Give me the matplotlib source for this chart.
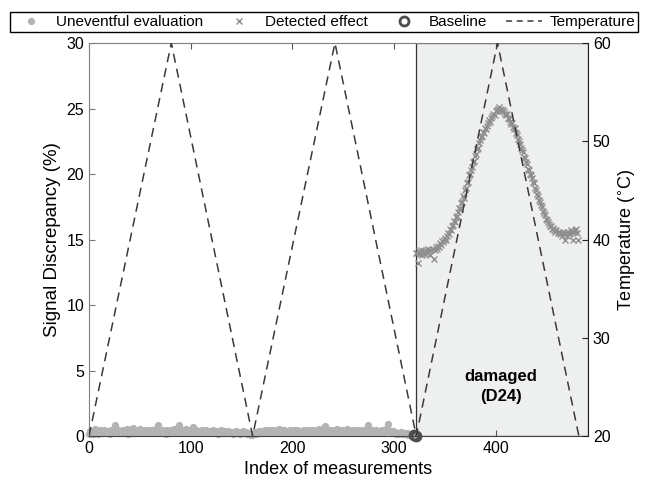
import matplotlib
matplotlib.use("Agg")
import matplotlib.pyplot as plt
from matplotlib.lines import Line2D

plt.rcParams['font.family'] = ['Liberation Sans', 'DejaVu Sans']

# ---------------- data ----------------
uneventful_values = [
    0.12, 0.35, 0.28, 0.41, 0.19, 0.30, 0.52, 0.24, 0.38, 0.15, 0.33, 0.45, 0.27, 0.20, 0.36, 0.48, 0.22, 0.31, 0.40, 0.26,
    0.34, 0.18, 0.43, 0.29, 0.37, 0.50, 0.86, 0.25, 0.32, 0.44, 0.21, 0.39, 0.30, 0.47, 0.23, 0.35, 0.28, 0.55, 0.19, 0.33,
    0.42, 0.26, 0.38, 0.60, 0.24, 0.31, 0.45, 0.20, 0.36, 0.29, 0.52, 0.27, 0.40, 0.33, 0.22, 0.46, 0.30, 0.37, 0.25, 0.43,
    0.28, 0.35, 0.49, 0.21, 0.39, 0.32, 0.57, 0.26, 0.82, 0.34, 0.41, 0.23, 0.30, 0.48, 0.27, 0.36, 0.19, 0.44, 0.31, 0.38,
    0.25, 0.46, 0.33, 0.29, 0.54, 0.22, 0.40, 0.35, 0.61, 0.87, 0.28, 0.37, 0.45, 0.24, 0.32, 0.50, 0.26, 0.39, 0.30, 0.43,
    0.21, 0.34, 0.72, 0.27, 0.36, 0.48, 0.23, 0.41, 0.31, 0.38, 0.25, 0.44, 0.29, 0.35, 0.20, 0.42, 0.33, 0.27, 0.39, 0.24,
    0.37, 0.30, 0.46, 0.22, 0.34, 0.28, 0.40, 0.19, 0.36, 0.31, 0.43, 0.26, 0.33, 0.24, 0.39, 0.29, 0.21, 0.35, 0.27, 0.32,
    0.22, 0.30, 0.18, 0.34, 0.26, 0.38, 0.20, 0.29, 0.33, 0.17, 0.31, 0.24, 0.36, 0.21, 0.28, 0.15, 0.25, 0.19, 0.13, 0.10,
    0.08, 0.14, 0.20, 0.27, 0.17, 0.32, 0.24, 0.37, 0.29, 0.22, 0.41, 0.34, 0.26, 0.45, 0.31, 0.38, 0.23, 0.43, 0.35, 0.28,
    0.48, 0.25, 0.39, 0.33, 0.44, 0.27, 0.36, 0.51, 0.30, 0.42, 0.24, 0.38, 0.46, 0.29, 0.35, 0.40, 0.26, 0.33, 0.47, 0.31,
    0.37, 0.22, 0.43, 0.34, 0.28, 0.45, 0.32, 0.39, 0.25, 0.41, 0.30, 0.36, 0.49, 0.27, 0.35, 0.42, 0.23, 0.38, 0.31, 0.44,
    0.29, 0.40, 0.33, 0.47, 0.26, 0.37, 0.52, 0.30, 0.41, 0.35, 0.45, 0.28, 0.79, 0.39, 0.32, 0.46, 0.24, 0.36, 0.43, 0.30,
    0.38, 0.27, 0.44, 0.33, 0.50, 0.25, 0.40, 0.35, 0.29, 0.47, 0.32, 0.41, 0.26, 0.37, 0.55, 0.30, 0.43, 0.34, 0.28, 0.39,
    0.46, 0.31, 0.36, 0.24, 0.42, 0.33, 0.48, 0.27, 0.38, 0.30, 0.44, 0.35, 0.25, 0.40, 0.53, 0.81, 0.29, 0.37, 0.43, 0.32,
    0.39, 0.26, 0.45, 0.34, 0.30, 0.41, 0.36, 0.23, 0.47, 0.33, 0.38, 0.28, 0.43, 0.58, 0.88, 0.35, 0.31, 0.40, 0.27, 0.36,
    0.22, 0.30, 0.18, 0.26, 0.14, 0.24, 0.20, 0.28, 0.16, 0.23, 0.12, 0.21, 0.17, 0.25, 0.11, 0.19, 0.15, 0.09, 0.13, 0.08,
    0.10, 0.06,
]
uneventful_start = 0

detected_values = [
    14.0,
    14.0, 13.2, 14.1, 13.9, 14.2, 13.8, 14.0, 14.1, 13.9, 14.2,
    14.0, 14.3, 14.1, 13.8, 14.2, 14.3, 13.5, 14.2, 14.4, 14.3,
    14.5, 14.4, 14.7, 14.6, 14.9, 14.8, 15.0, 15.1, 15.0, 15.3,
    15.5, 15.4, 15.8, 15.7, 16.0, 16.1, 16.4, 16.3, 16.7, 16.8,
    17.1, 17.4, 17.3, 17.8, 17.9, 18.3, 18.2, 18.8, 18.9, 19.3,
    19.4, 19.9, 20.0, 20.3, 20.5, 20.9, 21.0, 21.4, 21.5, 21.9,
    22.0, 22.4, 22.6, 22.8, 22.9, 23.2, 23.1, 23.5, 23.4, 23.7,
    23.9, 24.1, 24.0, 24.3, 24.4, 24.6, 24.5, 24.8, 24.9, 25.0,
    25.1, 24.9, 25.0, 24.8, 24.9, 24.7, 24.6, 24.5, 24.6, 24.3,
    24.2, 24.0, 23.8, 23.9, 23.6, 23.4, 23.5, 23.1, 23.0, 22.7,
    22.5, 22.3, 22.0, 21.8, 21.7, 21.3, 21.2, 20.9, 20.8, 20.4,
    20.3, 20.0, 19.9, 19.7, 19.4, 19.3, 18.9, 18.8, 18.5, 18.3,
    18.0, 17.9, 17.6, 17.5, 17.2, 17.0, 16.9, 16.6, 16.5, 16.3,
    16.2, 16.0, 16.0, 15.8, 15.9, 15.7, 15.6, 15.7, 15.5, 15.6,
    15.4, 15.5, 15.3, 15.6, 15.4, 15.0, 15.5, 15.3, 15.6, 15.4,
    15.5, 15.7, 15.6, 15.0, 15.6, 15.7, 15.8, 15.5, 15.0,
]
detected_start = 322

baseline_index = [320, 322]
baseline_values = [0.05, 0.0]

temp_index = [0, 81, 161, 242, 322, 402, 482]
temp_values = [20, 60, 20, 60, 20, 60, 20]

damaged_start = 322
x_max = 491

left_ticks = [0, 5, 10, 15, 20, 25, 30]
right_ticks = [20, 30, 40, 50, 60]
x_ticks = [0, 100, 200, 300, 400]

# ---------------- figure ----------------
fig = plt.figure(figsize=(6.46, 4.90), dpi=100)
ax = fig.add_axes([89/646, 1-436/490, (588-89)/646, (436-43)/490])
ax2 = ax.twinx()

c_unev = '#b3b3b3'
c_det = '#8f8f8f'
c_base = '#4d4d4d'
c_temp = '#3a3a3a'

ax.axvspan(damaged_start, x_max, facecolor='#eef0ef', edgecolor='#333333', lw=0.9, zorder=0)

ux = list(range(uneventful_start, uneventful_start + len(uneventful_values)))
dx = list(range(detected_start, detected_start + len(detected_values)))

ax.plot(ux, uneventful_values, linestyle='none', marker='o', ms=4.2, mfc=c_unev, mec=c_unev, zorder=2, clip_on=False)
ax.plot(dx, detected_values, linestyle='none', marker='x', ms=4.8, mew=1.0, color=c_det, zorder=3)
ax.plot(baseline_index, baseline_values, linestyle='none', marker='o', ms=6.5, mew=2.0, mfc='none', mec=c_base, zorder=4, clip_on=False)

ax2.plot(temp_index, temp_values, linestyle=(0, (6, 4)), color=c_temp, lw=1.1, zorder=5)

ax.set_xlim(0, x_max)
ax.set_ylim(0, 30)
ax2.set_ylim(20, 60)
ax.set_xticks(x_ticks)
ax.set_yticks(left_ticks)
ax2.set_yticks(right_ticks)

ax.tick_params(axis='both', direction='in', length=4, labelsize=11.5, top=True, color='#555555')
ax.tick_params(axis='y', colors='#777777', labelcolor='black')
ax2.tick_params(axis='y', direction='in', length=4, labelsize=11.5, color='#222222')

ax.spines['left'].set_color('#808080')
ax.spines['top'].set_color('#808080')
ax.spines['bottom'].set_color('#444444')
ax2.spines['right'].set_color('#222222')
for s in ['left', 'top', 'bottom']:
    ax2.spines[s].set_visible(False)
ax.spines['right'].set_visible(False)

ax.set_xlabel('Index of measurements', fontsize=13)
ax.set_ylabel('Signal Discrepancy (%)', fontsize=13.5)
ax2.set_ylabel('Temperature ($^{\\circ}$C)', fontsize=13)

ax.text(405, 3.8, 'damaged\n(D24)', ha='center', va='center', fontsize=12, fontweight='bold', linespacing=1.4, zorder=6)

handles = [
    Line2D([], [], linestyle='none', marker='o', ms=4.2, mfc=c_unev, mec=c_unev),
    Line2D([], [], linestyle='none', marker='x', ms=5, mew=1.0, color=c_det),
    Line2D([], [], linestyle='none', marker='o', ms=6.5, mew=2.0, mfc='none', mec=c_base),
    Line2D([], [], linestyle=(0, (4, 3)), color=c_temp, lw=1.1),
]
labels = ['Uneventful evaluation', 'Detected effect', 'Baseline', 'Temperature']
leg = fig.legend(handles, labels, loc='lower left', bbox_to_anchor=(10/646, 1-32/490, 628/646, 24/490),
                 mode='expand', ncol=4, fontsize=11, frameon=True, fancybox=False, framealpha=1,
                 edgecolor='black', borderaxespad=0, handlelength=2.3, handletextpad=0.5,
                 columnspacing=0.8, borderpad=0.2)
leg.get_frame().set_linewidth(1.0)

fig.savefig('out.png', dpi=100)
